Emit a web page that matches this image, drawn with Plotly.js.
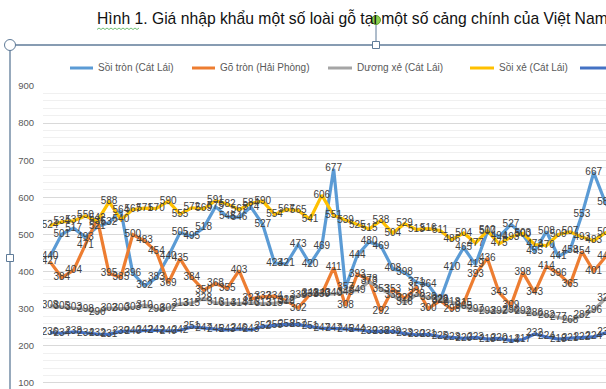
<!DOCTYPE html>
<html>
<head>
<meta charset="utf-8">
<script src="https://cdn.plot.ly/plotly-3.0.1.min.js"></script>
<style>
  html, body { margin: 0; padding: 0; background: #ffffff; }
  #chart { width: 606px; height: 389px; }
</style>
</head>
<body>
<div id="chart"></div>
<script>
// ---- data ----
const seriesNames = ["Sồi tròn (Cát Lái)", "Gõ tròn (Hải Phòng)", "Dương xẻ (Cát Lái)", "Sồi xẻ (Cát Lái)", "Thông xẻ (Cát Lái)"];
const soiTronCatLai = [440,501,517,493,521,532,564,396,362,383,440,505,495,518,575,548,546,574,527,423,421,473,420,469,677,357,444,480,469,408,398,371,364,322,410,465,419,507,494,527,500,455,508,441,458,553,667,585,540];
const goTronHaiPhong = [427,384,404,471,542,395,385,500,483,454,369,435,384,350,368,355,403,327,332,334,322,302,339,340,411,308,393,378,292,353,328,357,300,322,298,315,393,436,343,309,398,343,414,396,365,454,401,440,490];
const duongXeCatLai = [308,305,303,298,290,302,300,303,310,298,302,313,315,328,316,314,314,316,313,315,319,335,341,339,340,345,349,373,353,336,316,338,330,326,318,305,297,293,292,296,292,286,282,277,268,282,296,328,345];
const soiXeCatLai = [524,534,537,550,536,588,540,567,571,570,590,555,572,569,591,582,567,584,590,554,567,565,541,606,551,539,525,515,538,504,529,513,516,511,486,504,477,510,475,493,503,473,470,500,507,493,483,505,512];
const series5 = [236,234,238,234,232,231,239,240,242,242,240,242,251,247,245,243,246,243,252,255,258,257,251,247,247,245,244,239,238,239,233,230,231,225,223,220,223,218,220,214,217,232,224,218,221,222,224,235,240];
const yTickValues = [100,200,300,400,500,600,700,800,900];
const titleText = "Hình 1. Giá nhập khẩu một số loài gỗ tại một số cảng chính của Việt Nam";

// ---- styling ----
const colors = ["#5B9BD5", "#ED7D31", "#A5A5A5", "#FFC000", "#4472C4"];
const allSeries = [soiTronCatLai, goTronHaiPhong, duongXeCatLai, soiXeCatLai, series5];
const periods = soiTronCatLai.map((v, i) => i);
const FONT = "Liberation Sans, Arial, sans-serif";

const W = 606, H = 389;
const L = 43, R = 0, T = 85, B = 0;
const PW = W - L - R, PH = H - T - B;
const px = x => (x - L) / PW;
const py = y => 1 - (y - T) / PH;

const traces = [];
allSeries.forEach((vals, k) => {
  traces.push({
    x: periods, y: vals, type: "scatter", mode: "lines",
    line: { color: colors[k], width: 3.2, shape: "linear" },
    name: seriesNames[k], showlegend: false, hoverinfo: "skip"
  });
});
allSeries.forEach((vals, k) => {
  traces.push({
    x: periods, y: vals, type: "scatter", mode: "text",
    text: vals.map(String), textposition: "middle center",
    textfont: { family: FONT, size: 10, color: "#404040" },
    showlegend: false, hoverinfo: "skip", cliponaxis: true
  });
});

// ---- manual legend ----
const legendItems = [
  { x0: 70, x1: 93, tx: 96 },
  { x0: 192, x1: 215, tx: 218 },
  { x0: 328, x1: 352, tx: 355 },
  { x0: 470, x1: 494, tx: 497 },
  { x0: 580, x1: 606, tx: 612 }
];
const legY = 68;
const shapes = [];
const annotations = [];
legendItems.forEach((it, k) => {
  shapes.push({ type: "line", xref: "paper", yref: "paper",
    x0: px(it.x0), x1: px(it.x1), y0: py(legY), y1: py(legY),
    line: { color: colors[k], width: 3 } });
  annotations.push({ xref: "paper", yref: "paper", x: px(it.tx), y: py(legY),
    xanchor: "left", yanchor: "middle", showarrow: false, text: seriesNames[k],
    font: { family: FONT, size: 10, color: "#595959" } });
});

// ---- selection frame decoration (Word chart selected) ----
const frameColor = "#5f7b98";
shapes.push({ type: "line", xref: "paper", yref: "paper", x0: px(10), x1: px(606), y0: py(45), y1: py(45), line: { color: frameColor, width: 1.3 } });
shapes.push({ type: "line", xref: "paper", yref: "paper", x0: px(10), x1: px(10), y0: py(45), y1: py(389), line: { color: frameColor, width: 1.3 } });
shapes.push({ type: "line", xref: "paper", yref: "paper", x0: px(376), x1: px(376), y0: py(24), y1: py(42), line: { color: frameColor, width: 1 } });
shapes.push({ type: "circle", xref: "paper", yref: "paper", x0: px(4.5), x1: px(15.5), y0: py(39.5), y1: py(50.5), fillcolor: "#ffffff", line: { color: frameColor, width: 1 } });
shapes.push({ type: "rect", xref: "paper", yref: "paper", x0: px(372.5), x1: px(379.5), y0: py(41.5), y1: py(48.5), fillcolor: "#ffffff", line: { color: frameColor, width: 1 } });
shapes.push({ type: "rect", xref: "paper", yref: "paper", x0: px(6.5), x1: px(13.5), y0: py(254.5), y1: py(261.5), fillcolor: "#ffffff", line: { color: frameColor, width: 1 } });
shapes.push({ type: "circle", xref: "paper", yref: "paper", x0: px(371.5), x1: px(380.5), y0: py(15.5), y1: py(24.5), fillcolor: "#8ccf4d", line: { color: "#5e9e2e", width: 1 } });
// spell-check wavy underline under "Hình 1."
let wave = "M" + px(97) + "," + py(29.5);
for (let xx = 99, up = true; xx <= 139; xx += 2, up = !up) {
  wave += " L" + px(xx) + "," + py(up ? 28 : 29.5);
}
shapes.push({ type: "path", xref: "paper", yref: "paper", path: wave, line: { color: "#4caf50", width: 0.8 } });

const layout = {
  width: W, height: H,
  margin: { l: L, r: R, t: T, b: B, pad: 0 },
  paper_bgcolor: "#ffffff", plot_bgcolor: "#ffffff",
  showlegend: false,
  title: { text: titleText, x: 97 / W, xanchor: "left", y: 1 - 19 / H, yanchor: "middle",
    font: { family: FONT, size: 15.7, color: "#111111" } },
  xaxis: { range: [-0.59, 47.04], showgrid: false, zeroline: false, showticklabels: false, showline: false, ticks: "" },
  yaxis: { range: [83.8, 902.7], tickvals: yTickValues, ticktext: yTickValues.map(String),
    showgrid: true, gridcolor: "#d9d9d9", gridwidth: 1, zeroline: false, showline: false, ticks: "",
    ticklabelstandoff: 8,
    tickfont: { family: FONT, size: 9.5, color: "#595959" },
    minor: { dtick: 20, tick0: 0, showgrid: true, gridcolor: "#f0f0f0", gridwidth: 1, ticks: "" } },
  shapes: shapes,
  annotations: annotations
};

Plotly.newPlot("chart", traces, layout, { staticPlot: true, displayModeBar: false });
</script>
</body>
</html>
